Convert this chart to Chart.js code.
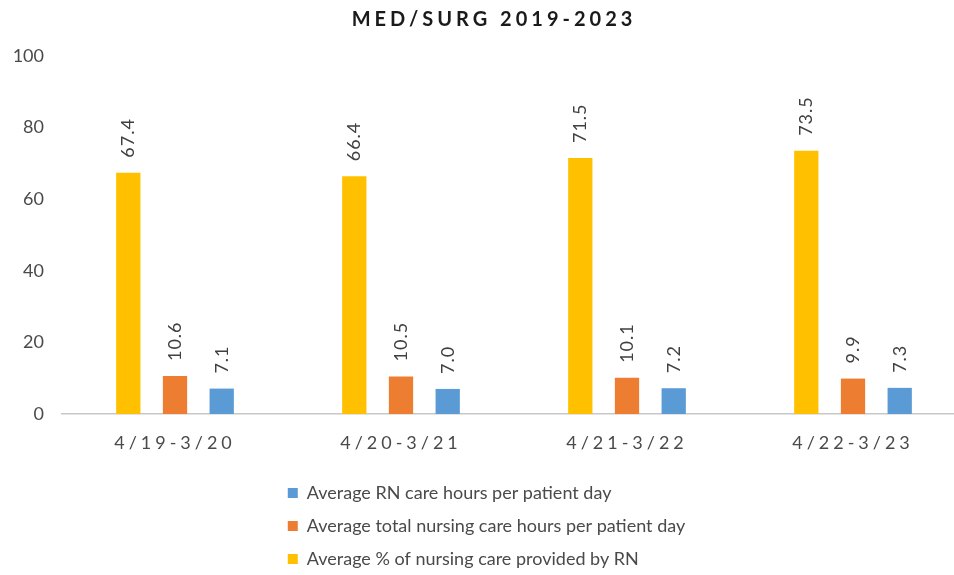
<!DOCTYPE html>
<html>
<head>
<meta charset="utf-8">
<script src="https://cdn.jsdelivr.net/npm/chart.js@4"></script>
<style>
    html, body { margin: 0; padding: 0; background: #fff; overflow: hidden; }
    #wrap { width: 966px; height: 575px; }
</style>
</head>
<body>
<div id="wrap"><canvas id="medSurgChart" width="966" height="575"></canvas></div>
<script>
const periods = ["4/19-3/20", "4/20-3/21", "4/21-3/22", "4/22-3/23"];
const pctByRN = [67.4, 66.4, 71.5, 73.5];
const totalHours = [10.6, 10.5, 10.1, 9.9];
const rnHours = [7.1, 7.0, 7.2, 7.3];
const yTicks = [0, 20, 40, 60, 80, 100];

const FONT = "Lato, 'Open Sans', sans-serif";

// vertical legend: one item per row, rows left-aligned as a centred block
const stackedLegend = {
    id: "stackedLegend",
    beforeLayout(chart) {
        const lg = chart.legend;
        if (lg && !lg._stacked) {
            const origFit = lg.fit;
            lg.fit = function () {
                const mw = this.maxWidth;
                this.maxWidth = 1;
                origFit.call(this);
                this.maxWidth = mw;
                this.width = mw;
                this.height = 106;
            };
            const origDraw = lg.draw;
            lg.draw = function (area) {
                const L = this.left, R = this.right, W = this.width;
                const w = Math.max(...this.lineWidths) + 6;
                this.left = (L + R) / 2 - w / 2 - 1;
                this.right = this.left + w;
                this.width = w;
                origDraw.call(this, area);
                this.left = L; this.right = R; this.width = W;
            };
            lg._stacked = true;
        }
        const tb = chart.titleBlock;
        if (tb && !tb._spaced) {
            const origTitle = tb.draw;
            tb.draw = function (area) {
                const c = this.ctx;
                c.save();
                c.letterSpacing = "4px";
                c.translate(11, 0);
                origTitle.call(this, area);
                c.restore();
            };
            tb._spaced = true;
        }
    },
    beforeDraw(chart) {
        const x = chart.scales.x;
        if (x && !x._spaced) {
            const origLabels = x.drawLabels;
            x.drawLabels = function (area) {
                const c = this.ctx;
                c.save();
                c.letterSpacing = "4px";
                origLabels.call(this, area);
                c.restore();
            };
            x._spaced = true;
        }
    }
};

// rotated value labels above each bar
const barValues = {
    id: "barValues",
    afterDatasetsDraw(chart) {
        const ctx = chart.ctx;
        chart.data.datasets.forEach((ds, i) => {
            const meta = chart.getDatasetMeta(i);
            meta.data.forEach((bar, j) => {
                ctx.save();
                ctx.translate(bar.x, bar.y - 15);
                ctx.rotate(-Math.PI / 2);
                ctx.font = "18px " + FONT;
                ctx.fillStyle = "#404040";
                ctx.textAlign = "left";
                ctx.textBaseline = "middle";
                ctx.letterSpacing = "1px";
                ctx.fillText(ds.data[j].toFixed(1), 0, 0);
                ctx.restore();
            });
        });
    }
};

const ctx = document.getElementById("medSurgChart").getContext("2d");

new Chart(ctx, {
    type: "bar",
    data: {
        labels: periods,
        datasets: [
            {
                label: "Average % of nursing care provided by RN",
                data: pctByRN,
                backgroundColor: "#FFC000"
            },
            {
                label: "Average total nursing care hours per patient day",
                data: totalHours,
                backgroundColor: "#ED7D31"
            },
            {
                label: "Average RN care hours per patient day",
                data: rnHours,
                backgroundColor: "#5B9BD5"
            }
        ]
    },
    options: {
        responsive: false,
        animation: false,
        devicePixelRatio: 1,
        categoryPercentage: 0.62,
        barPercentage: 0.52,
        layout: { padding: 0 },
        plugins: {
            title: {
                display: true,
                text: "MED/SURG 2019-2023",
                color: "#1a1a1a",
                font: { family: FONT, size: 20, weight: "bold" },
                padding: { top: 8, bottom: 24 }
            },
            legend: {
                position: "bottom",
                align: "start",
                reverse: true,
                labels: {
                    boxWidth: 10,
                    boxHeight: 10,
                    padding: 15,
                    color: "#4a4a4a",
                    font: { family: FONT, size: 18 }
                }
            },
            tooltip: { enabled: false }
        },
        scales: {
            x: {
                grid: { display: false, drawTicks: false },
                border: { display: true, color: "#c8c8c8", width: 1.5 },
                ticks: {
                    color: "#4a4a4a",
                    font: { family: FONT, size: 18 },
                    padding: 18,
                    maxRotation: 0,
                    autoSkip: false
                },
                afterFit(scale) { scale.height = 55; }
            },
            y: {
                min: 0,
                max: 100,
                grid: { display: false, drawTicks: false },
                border: { display: false },
                afterBuildTicks(scale) {
                    scale.ticks = yTicks.map(v => ({ value: v }));
                },
                ticks: {
                    color: "#4a4a4a",
                    font: { family: FONT, size: 18 },
                    padding: 18
                },
                afterFit(scale) { scale.width = 62; }
            }
        }
    },
    plugins: [stackedLegend, barValues]
});
</script>
</body>
</html>
